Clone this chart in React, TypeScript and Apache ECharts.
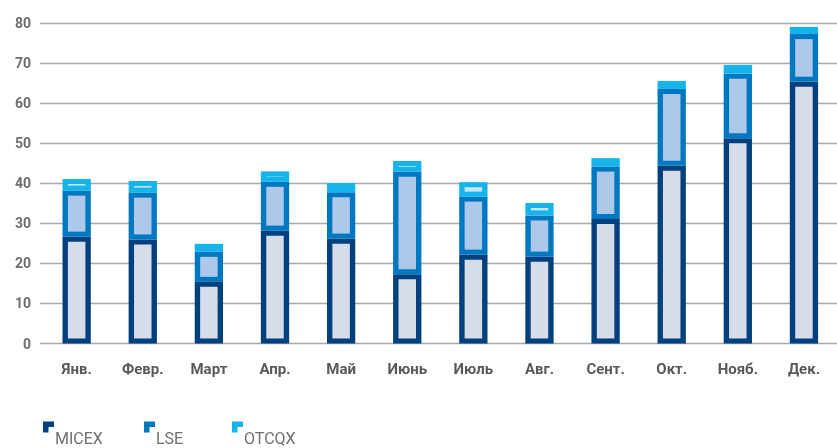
import React, { useEffect, useRef } from "react";
import * as echarts from "echarts";

const categories = ["Янв.", "Февр.", "Март", "Апр.", "Май", "Июнь", "Июль", "Авг.", "Сент.", "Окт.", "Нояб.", "Дек."];
const micex = [26.7, 26.0, 15.4, 28.2, 26.2, 17.3, 22.2, 21.7, 31.1, 44.4, 51.3, 65.4];
const lse = [11.5, 11.7, 7.5, 12.2, 11.6, 25.6, 14.5, 10.3, 13.1, 19.2, 16.1, 11.9];
const otcqx = [2.9, 2.9, 2.0, 2.6, 2.3, 2.7, 3.6, 3.1, 2.1, 2.0, 2.2, 1.8];
const yTicks = { min: 0, max: 80, interval: 10 };

const seriesDefs = [
  { name: "MICEX", values: micex, border: "#02417d", fill: "#d6dcea" },
  { name: "LSE", values: lse, border: "#0077c1", fill: "#adc8e9" },
  { name: "OTCQX", values: otcqx, border: "#15b4ea", fill: "#c4e6f6" },
];

const legendLeft = [43, 144, 232];

export default function App() {
  const ref = useRef<HTMLDivElement>(null);
  useEffect(() => {
    if (!ref.current) return;
    const chart = echarts.init(ref.current, null, { renderer: "svg" });
    const bases = categories.map(() => 0);
    const series = seriesDefs.map((s) => {
      const data = s.values.map((v, i) => {
        const b = bases[i];
        bases[i] = b + v;
        return [i, b, b + v];
      });
      return {
        name: s.name,
        type: "custom",
        xAxisIndex: 0,
        yAxisIndex: 0,
        itemStyle: { color: s.border },
        encode: { x: 0, y: 2 },
        data,
        renderItem: (params: any, api: any) => {
          const i = api.value(0);
          const base = api.value(1);
          const top = api.value(2);
          const p0 = api.coord([i, base]);
          const p1 = api.coord([i, top]);
          const bandW = api.size([1, 0])[0];
          const w = bandW * 0.428;
          const x = p0[0] - w / 2;
          const y = p1[1];
          const h = p0[1] - p1[1];
          const bx = 5.4;
          const by = 5;
          return {
            type: "group",
            children: [
              { type: "rect", shape: { x, y, width: w, height: h }, style: { fill: s.border } },
              {
                type: "rect",
                shape: { x: x + bx, y: y + by, width: w - 2 * bx, height: Math.max(0, h - 2 * by) },
                style: { fill: s.fill },
              },
            ],
          };
        },
      };
    });

    const option: any = {
      animation: false,
      grid: [
        { left: 43.6, right: -8.2, top: 23.3, bottom: 104.5 },
        { left: 40, right: 0, top: 23.3, bottom: 104.5 },
      ],
      legend: seriesDefs.map((s, k) => ({
        data: [s.name],
        left: legendLeft[k],
        top: 405,
        padding: 0,
        itemWidth: 11,
        itemHeight: 11,
        icon: "path://M0,0H11V5.5H5.5V11H0Z",
        selectedMode: false,
        formatter: (name: string) => "\n" + name,
        textStyle: {
          fontFamily: "Roboto",
          fontSize: 16,
          lineHeight: 22,
          color: "#6d6e71",
          padding: [0, 0, 0, -4],
        },
      })),
      xAxis: [
        {
          type: "category",
          gridIndex: 0,
          data: categories,
          axisTick: { show: false },
          axisLine: { show: false },
          axisLabel: {
            fontFamily: "Roboto",
            fontWeight: "bold",
            fontSize: 15,
            color: "#58595b",
            margin: 18,
          },
        },
        { type: "value", gridIndex: 1, show: false, min: 0, max: 1 },
      ],
      yAxis: [
        { type: "value", gridIndex: 0, show: false, ...yTicks },
        {
          type: "value",
          gridIndex: 1,
          ...yTicks,
          axisLine: { show: false },
          axisTick: { show: false },
          axisLabel: {
            fontFamily: "Roboto",
            fontWeight: "bold",
            fontSize: 14,
            color: "#6d6e71",
            margin: 9,
          },
          splitLine: { lineStyle: { color: "#a7a9ac", width: 1.3 } },
        },
      ],
      series,
    };
    chart.setOption(option);
    return () => chart.dispose();
  }, []);
  return <div ref={ref} style={{ position: "fixed", left: 0, top: 0, width: 837, height: 448 }} />;
}
